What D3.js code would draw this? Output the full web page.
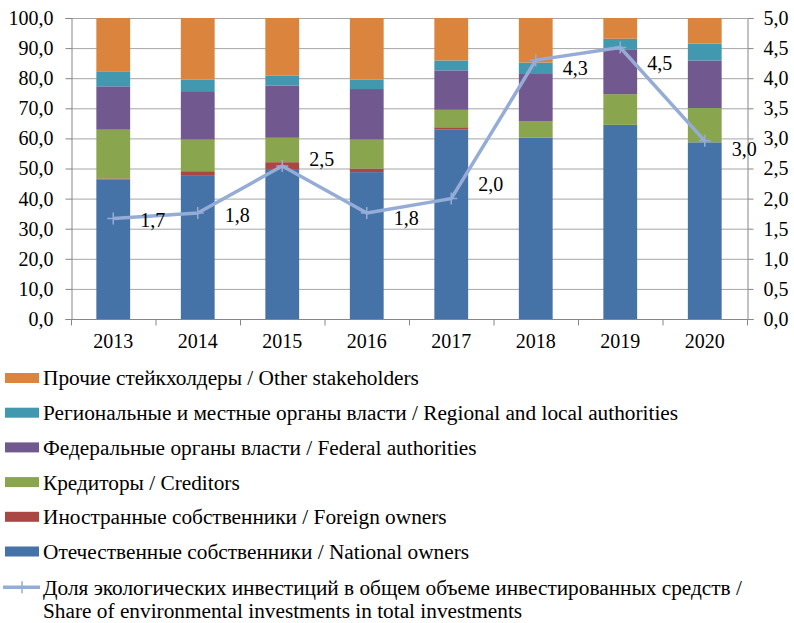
<!DOCTYPE html>
<html><head><meta charset="utf-8">
<script src="https://cdn.jsdelivr.net/npm/d3@7"></script>
<style>
html,body{margin:0;padding:0;background:#fff;}
svg{display:block;}
svg text{font-family:'Liberation Serif','Times New Roman',serif;}
</style></head>
<body><svg id="chart" width="794" height="623" font-family="'Liberation Serif', serif"></svg>
<script>
// ---- data ----
const years = ["2013","2014","2015","2016","2017","2018","2019","2020"];
const nationalOwners = [46.3, 47.8, 49.8, 48.8, 62.9, 60.2, 64.5, 58.7];
const foreignOwners  = [0.4, 1.3, 2.3, 1.2, 0.8, 0.0, 0.0, 0.0];
const creditors      = [16.2, 10.5, 8.1, 9.6, 5.8, 5.4, 10.2, 11.4];
const federalAuth    = [14.4, 16.1, 17.4, 16.8, 13.1, 15.8, 14.7, 15.8];
const regionalAuth   = [5.0, 3.8, 3.2, 3.1, 3.3, 3.8, 3.7, 5.6];
const otherStake     = [17.7, 20.5, 19.2, 20.5, 14.1, 14.8, 6.9, 8.5];
const envShare       = [1.67, 1.76, 2.54, 1.76, 2.0, 4.3, 4.51, 2.96];
const leftTicks  = [0,10,20,30,40,50,60,70,80,90,100];
const rightTicks = [0,0.5,1,1.5,2,2.5,3,3.5,4,4.5,5];
const seriesNames = [
  "Отечественные собственники / National owners",
  "Иностранные собственники / Foreign owners",
  "Кредиторы / Creditors",
  "Федеральные органы власти / Federal authorities",
  "Региональные и местные органы власти / Regional and local authorities",
  "Прочие стейкхолдеры / Other stakeholders"
];
const lineName1 = "Доля экологических инвестиций в общем объеме инвестированных средств /";
const lineName2 = "Share of environmental investments in total investments";

// ---- styles / layout ----
const colors = ["#4572A7","#AA4643","#89A54E","#71588F","#4198AF","#DB843D"];
const lineColor = "#94ACD6";
const labelDy = [2, 2, -7, 5, -15, 8, 16, 8];
const M = {left:71, right:747, top:18, bottom:319};
const fs = 20, legFs = 21.3;
const FF = "'Liberation Serif', 'Times New Roman', serif";

const svg = d3.select("#chart");
const seriesVals = [nationalOwners, foreignOwners, creditors, federalAuth, regionalAuth, otherStake];
const keys = seriesNames.map((d,i)=>"s"+i);
const table = years.map((y,j)=>{const o={year:y}; keys.forEach((k,i)=>o[k]=seriesVals[i][j]); return o;});
const stacked = d3.stack().keys(keys)(table);

const x = d3.scaleBand().domain(years).range([M.left, M.right]).paddingInner(0.6).paddingOuter(0.3);
const xb = d3.scaleBand().domain(years).range([M.left, M.right]);
const yL = d3.scaleLinear().domain([0,100]).range([M.bottom, M.top]);
const yR = d3.scaleLinear().domain([0,5]).range([M.bottom, M.top]);
const fmt = v => d3.format(".1f")(v).replace(".", ",");

// grid
svg.append("g").selectAll("line").data(leftTicks.slice(1)).join("line")
  .attr("x1", M.left).attr("x2", M.right)
  .attr("y1", d=>yL(d)+0.5).attr("y2", d=>yL(d)+0.5)
  .attr("stroke", "#A6A6A6").attr("stroke-width", 1);

// bars
svg.append("g").selectAll("g").data(stacked).join("g")
  .attr("fill", (d,i)=>colors[i])
  .selectAll("rect").data(d=>d).join("rect")
  .attr("x", d=>x(d.data.year))
  .attr("width", x.bandwidth())
  .attr("y", d=>yL(d[1]))
  .attr("height", d=>Math.max(0, yL(d[0]) - yL(d[1])));

// axes
const gL = svg.append("g").attr("transform", `translate(${M.left+0.5},0)`)
  .call(d3.axisLeft(yL).tickValues(leftTicks).tickFormat(fmt).tickSize(6).tickPadding(12));
const gR = svg.append("g").attr("transform", `translate(${M.right+0.5},0)`)
  .call(d3.axisRight(yR).tickValues(rightTicks).tickFormat(fmt).tickSize(6).tickPadding(10));
const gB = svg.append("g").attr("transform", `translate(0,${M.bottom+0.5})`)
  .call(d3.axisBottom(xb).tickSize(0).tickPadding(14));
gB.append("g").selectAll("line").data(d3.range(years.length+1)).join("line")
  .attr("x1", i=>M.left + i*xb.step()+0.5).attr("x2", i=>M.left + i*xb.step()+0.5)
  .attr("y1", 0).attr("y2", 6).attr("stroke", "#868686");
[gL,gR,gB].forEach(g=>{
  g.attr("font-family", FF);
  g.select(".domain").attr("stroke","#868686");
  g.selectAll(".tick line").attr("stroke","#868686");
  g.selectAll("text").attr("font-size", fs).attr("font-family", FF).attr("fill","#000");
});
gB.select(".domain").attr("d", `M${M.left},0H${M.right+0.5}`);

// line
const cx = (d,i)=>xb(years[i]) + xb.bandwidth()/2;
const lineGen = d3.line().x((d,i)=>cx(d,i)).y(d=>yR(d));
svg.append("path").datum(envShare).attr("d", lineGen)
  .attr("fill","none").attr("stroke", lineColor).attr("stroke-width", 3.5).attr("stroke-linejoin","round");
const mk = svg.append("g").selectAll("g").data(envShare).join("g")
  .attr("transform", (d,i)=>`translate(${cx(d,i)},${yR(d)})`);
mk.append("path").attr("d","M-6,0H6M0,-6V6").attr("stroke", lineColor).attr("stroke-width", 1.5);

// labels
svg.append("g").selectAll("text").data(envShare).join("text")
  .attr("x", (d,i)=>cx(d,i)+27)
  .attr("y", (d,i)=>yR(d)+labelDy[i])
  .attr("dy","0.35em")
  .attr("font-size", fs).attr("font-family", FF).attr("fill","#000")
  .text(d=>fmt(d));

// legend
const legOrder = [5,4,3,2,1,0];
const legY0 = 378, legStep = 34.7;
const lg = svg.append("g").attr("font-family", FF);
legOrder.forEach((si,i)=>{
  const yy = legY0 + i*legStep;
  lg.append("rect").attr("x",5).attr("y",yy-5).attr("width",34).attr("height",10).attr("fill",colors[si]);
  lg.append("text").attr("x",43).attr("y",yy).attr("dy","0.35em").attr("font-size",legFs)
    .attr("font-family", FF).text(seriesNames[si]);
});
const ly = legY0 + 6*legStep + 1;
lg.append("line").attr("x1",3).attr("x2",40).attr("y1",ly).attr("y2",ly).attr("stroke",lineColor).attr("stroke-width",3.5);
lg.append("path").attr("d",`M22,${ly-6}V${ly+6}`).attr("stroke",lineColor).attr("stroke-width",1.5);
lg.append("text").attr("x",43).attr("y",ly).attr("dy","0.35em").attr("font-size",legFs).attr("font-family", FF).text(lineName1);
lg.append("text").attr("x",43).attr("y",ly+23).attr("dy","0.35em").attr("font-size",legFs).attr("font-family", FF).text(lineName2);
</script></body></html>
